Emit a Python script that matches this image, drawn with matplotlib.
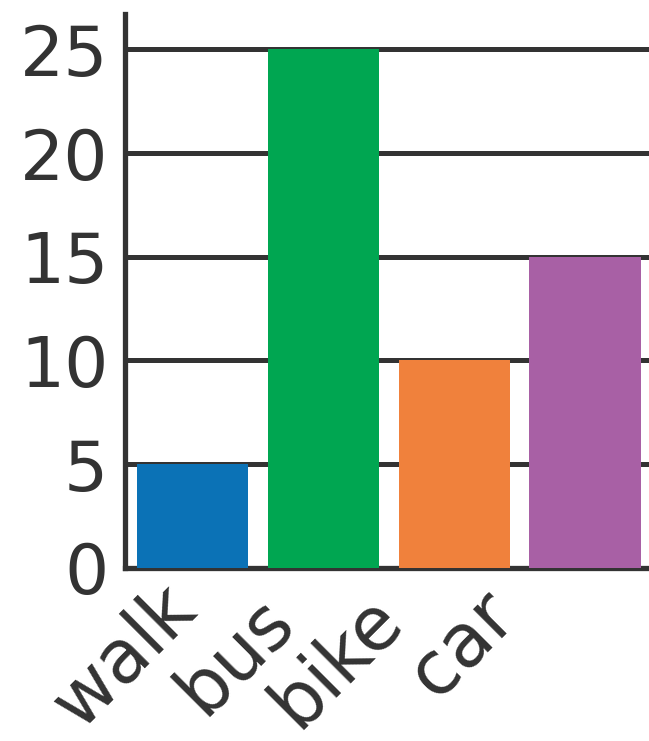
import matplotlib
matplotlib.use("Agg")
import matplotlib.pyplot as plt
import matplotlib.transforms as mtransforms

# data
modes = ["walk", "bus", "bike", "car"]
counts = [5, 25, 10, 15]
bar_colors = ["#0b72b6", "#00a651", "#f0813c", "#a860a5"]
y_ticks = [0, 5, 10, 15, 20, 25]

ink = "#333333"

fig = plt.figure(figsize=(6.49, 7.41), dpi=100)
ax = fig.add_axes([0.1926, 0.2335, 0.8074, 0.7476])

x = list(range(len(modes)))
ax.bar(x, counts, width=0.85, color=bar_colors, zorder=3)

ax.set_xlim(-0.52, 3.49)
ax.set_ylim(0, 26.7)
ax.set_yticks(y_ticks)
ax.set_yticklabels([str(v) for v in y_ticks], fontsize=50, color=ink)
ax.set_xticks(x)
ax.set_xticklabels([])
ax.tick_params(axis="both", length=0)
ax.tick_params(axis="y", pad=12)

# the category labels in the original sit a bit left of their bars,
# so place them by hand with a pixel offset (dx, dy) from the tick
label_offsets = [(-68, -88), (-88, -88), (-117, -94), (-122, -77)]
base = mtransforms.blended_transform_factory(ax.transData, ax.transAxes)
for i, name in enumerate(modes):
    dx, dy = label_offsets[i]
    tr = base + mtransforms.ScaledTranslation(dx / 100, dy / 100, fig.dpi_scale_trans)
    ax.text(x[i], 0, name, transform=tr, fontsize=53, color=ink,
            rotation=45, rotation_mode="anchor", ha="center", va="center",
            clip_on=False)

ax.grid(axis="y", color=ink, linewidth=3.6, zorder=1)
ax.set_axisbelow(True)

for side in ["top", "right"]:
    ax.spines[side].set_visible(False)
for side in ["left", "bottom"]:
    ax.spines[side].set_linewidth(3.8)
    ax.spines[side].set_color(ink)

fig.savefig("out.png", dpi=100)
